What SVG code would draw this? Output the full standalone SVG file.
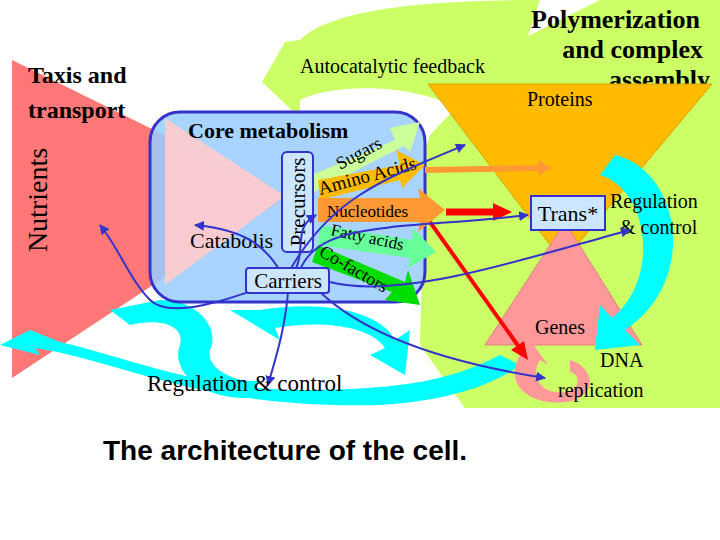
<svg xmlns="http://www.w3.org/2000/svg" width="720" height="540" viewBox="0 0 720 540">
<style>
.s{font-family:"Liberation Serif",serif;fill:#000}
.b{font-weight:bold}
.bl{fill:none;stroke:#3333cc;stroke-width:2}
.cy{fill:#00ffff}
</style>
<defs>
<marker id="ah" viewBox="0 0 10 10" refX="9" refY="5" markerWidth="5" markerHeight="5" orient="auto"><path d="M0,0L10,5L0,10z" fill="#3333cc"/></marker>
</defs>
<rect width="720" height="540" fill="#fff"/>
<g id="bg">
<polygon points="430,135 520,40 600,0 720,0 720,408 465,408 420,345 425,150" fill="#ccff66"/>
<path d="M540,0 C420,0 330,10 300,40 L285,42 L262,82 L300,118 L300,100 C340,80 440,85 470,120 L520,60 Z" fill="#ccff66"/>
</g>
<g id="texts-top">
<text class="s b" x="700" y="28" font-size="26" text-anchor="end">Polymerization</text>
<text class="s b" x="703" y="58" font-size="26" text-anchor="end">and complex</text>
<text class="s b" x="710" y="88" font-size="26" text-anchor="end">assembly</text>
<text class="s" x="300" y="73" font-size="20">Autocatalytic feedback</text>
</g>
<g id="proteins">
<polygon points="428,84 712,84 563,262" fill="#ffbb00" stroke="#e0a000"/>
<text class="s" x="527" y="106" font-size="20">Proteins</text>
</g>
<g id="genes">
<polygon points="565,222 485,345 642,345" fill="#ff9999" stroke="#e08080"/>
<text class="s" x="535" y="334" font-size="20">Genes</text>
</g>
<g id="nutrients">
<polygon points="12,60 12,378 288,196" fill="#ff7777"/>
<text class="s" transform="translate(47,200) rotate(-90)" font-size="28" text-anchor="middle">Nutrients</text>
<text class="s b" x="28" y="83" font-size="24">Taxis and</text>
<text class="s b" x="28" y="118" font-size="24">transport</text>
</g>
<g id="cyan">
<path d="M615,155 C680,170 700,280 625,330 L640,345 L595,350 L600,305 L612,318 C660,280 650,190 600,175 Z" class="cy"/>
<path d="M30,330 L0,345 L40,355 L35,348 C120,360 200,410 380,405 C460,400 500,380 520,365 L500,355 C460,375 420,390 300,390 C200,390 120,355 60,342 Z" class="cy"/>
<path d="M110,310 L160,300 C200,300 220,330 210,350 C205,370 240,385 260,380 L250,398 C200,400 170,370 180,345 C185,325 160,318 130,325 Z" class="cy"/>
<path d="M230,310 L260,310 C320,300 380,310 395,340 L410,330 L405,375 L370,355 L385,348 C370,325 320,320 275,328 L280,340 Z" class="cy"/>
</g>
<g id="dna">
<path d="M520,355 C500,390 540,410 575,400 C600,390 590,365 570,360 L570,372 C582,375 580,390 565,392 C540,395 530,375 540,360 L548,365 L530,340 Z" fill="#ff9999"/>
<text class="s" x="600" y="367" font-size="20">DNA</text>
<text class="s" x="558" y="397" font-size="20">replication</text>
</g>
<g id="core">
<rect x="150" y="112" width="275" height="190" rx="30" fill="#99ccff" fill-opacity="0.85" stroke="#3333cc" stroke-width="3"/>
<polygon points="165,118 165,285 285,196" fill="#ffcccc" opacity="0.9"/>
<text class="s b" x="188" y="138" font-size="22">Core metabolism</text>
<text class="s" x="190" y="248" font-size="22">Catabolis</text>
</g>
<g id="flows">
<polygon points="312,175 395,140 390,128 420,122 410,152 404,146 314,192" fill="#ccff99"/>
<polygon points="318,180 400,165 396,150 425,165 402,188 400,180 320,200" fill="#ffbb00"/>
<polygon points="318,198 420,198 418,188 445,210 418,232 420,222 318,222" fill="#ff9933"/>
<polygon points="320,225 412,240 413,228 436,252 408,268 410,258 318,245" fill="#66ff99"/>
<polygon points="318,245 405,282 408,270 420,305 385,300 392,292 312,262" fill="#00dd00"/>
<text class="s" transform="translate(340,170) rotate(-28)" font-size="18">Sugars</text>
<text class="s" transform="translate(320,195) rotate(-15)" font-size="19">Amino Acids</text>
<text class="s" x="327" y="217" font-size="17">Nucleotides</text>
<text class="s" transform="translate(330,235) rotate(12)" font-size="17">Fatty acids</text>
<text class="s" transform="translate(318,255) rotate(30)" font-size="18">Co-factors</text>
</g>
<g id="precursors">
<rect x="282" y="152" width="31" height="100" rx="5" fill="#cce6ff" stroke="#3333cc" stroke-width="2"/>
<text class="s" transform="translate(305,202) rotate(-90)" font-size="21" text-anchor="middle">Precursors</text>
</g>
<g id="trans">
<rect x="531" y="196" width="74" height="34" fill="#cce6ff" stroke="#3333cc" stroke-width="2"/>
<text class="s" x="568" y="221" font-size="22" text-anchor="middle">Trans*</text>
<text class="s" x="610" y="208" font-size="20">Regulation</text>
<text class="s" x="620" y="234" font-size="20">&amp; control</text>
</g>
<g id="connectors">
<path d="M425,170 L540,168" stroke="#ff9933" stroke-width="6" fill="none"/>
<polygon points="538,160 552,168 538,176" fill="#ff9933"/>
<path d="M446,212 L495,212" stroke="#ff0000" stroke-width="7"/>
<polygon points="493,203 512,212 493,221" fill="#ff0000"/>
<path d="M430,222 L519,347" stroke="#ff0000" stroke-width="4"/>
<polygon points="528,360 524,341 511,350" fill="#ff0000"/>
<path class="bl" d="M285,280 C270,250 250,230 195,225" marker-end="url(#ah)"/>
<path class="bl" d="M280,280 C230,300 170,320 150,300 C130,280 120,250 100,225" marker-end="url(#ah)"/>
<path class="bl" d="M290,280 C310,250 290,230 316,215" marker-end="url(#ah)"/>
<path class="bl" d="M290,270 C330,200 380,180 465,145" marker-end="url(#ah)"/>
<path class="bl" d="M300,270 C320,220 400,230 528,215" marker-end="url(#ah)"/>
<path class="bl" d="M330,282 C400,300 520,260 630,230" marker-end="url(#ah)"/>
<path class="bl" d="M320,292 C360,330 430,360 545,378" marker-end="url(#ah)"/>
<path class="bl" d="M288,292 C285,330 275,360 268,385" marker-end="url(#ah)"/>
</g>
<g id="carriers">
<rect x="246" y="268" width="83" height="25" rx="3" fill="#cce6ff" stroke="#3333cc" stroke-width="2"/>
<text class="s" x="288" y="288" font-size="21" text-anchor="middle">Carriers</text>
</g>
<g id="bottom">
<text class="s" x="147" y="391" font-size="23">Regulation &amp; control</text>
<text x="103" y="460" font-family="Liberation Sans,sans-serif" font-weight="bold" font-size="28">The architecture of the cell.</text>
</g>
</svg>
